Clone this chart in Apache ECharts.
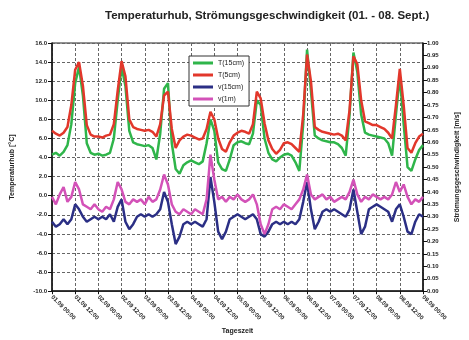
<!DOCTYPE html>
<html>
<head>
<meta charset="utf-8">
<script src="https://cdn.jsdelivr.net/npm/echarts@6/dist/echarts.min.js"></script>
<style>
  html, body { margin: 0; padding: 0; background: #fff; }
  #chart { width: 469px; height: 340px; }
</style>
</head>
<body>
<div id="chart"></div>
<script>
// Messwerte alle 2 Stunden, 01.09. 00:00 bis 09.09. 00:00
var stepHours = 2;

var xTickLabels = [
  '01.09 00:00', '01.09 12:00', '02.09 00:00', '02.09 12:00', '03.09 00:00', '03.09 12:00',
  '04.09 00:00', '04.09 12:00', '05.09 00:00', '05.09 12:00', '06.09 00:00', '06.09 12:00',
  '07.09 00:00', '07.09 12:00', '08.09 00:00', '08.09 12:00', '09.09 00:00'
];

var seriesNames = ['T(15cm)', 'T(5cm)', 'v(15cm)', 'v(1m)'];

// Temperatur 15cm (gruen)
var temp15 = [
  4.3, 4.5, 4.2, 4.6, 5.3, 7.5, 11.8, 13.5, 10.5, 5.5, 4.5, 4.3, 4.4, 4.2, 4.3, 4.5,
  6.0, 10.0, 13.5, 11.5, 6.8, 5.6, 5.4, 5.3, 5.2, 5.3, 5.0, 3.8, 6.5, 11.2, 11.8, 5.5,
  2.8, 2.3, 3.2, 3.5, 3.7, 3.5, 3.3, 3.6, 5.5, 8.0, 6.8, 3.5, 2.8, 2.6, 3.8, 5.3,
  5.6, 5.7, 5.5, 5.4, 6.5, 10.0, 9.5, 6.0, 4.5, 3.8, 3.6, 4.0, 4.3, 4.4, 4.2, 3.5,
  2.6, 7.5, 15.3, 11.0, 6.3, 6.0, 5.8, 5.7, 5.6, 5.6, 5.4, 5.0, 4.2, 8.5, 15.0, 13.0,
  8.5, 6.6, 6.4, 6.3, 6.2, 6.1, 6.0, 5.5, 4.2, 8.5, 12.5, 7.5, 3.0, 2.6, 3.8, 4.8, 5.3
];

// Temperatur 5cm (rot)
var temp5 = [
  6.8, 6.5, 6.3, 6.6, 7.2, 9.5, 13.2, 14.0, 11.5, 7.4, 6.4, 6.2, 6.2, 6.1, 6.3, 6.4,
  7.5, 11.0, 14.1, 12.5, 8.0, 7.2, 7.0, 6.9, 6.8, 6.9, 6.7, 6.2, 7.5, 10.5, 10.9, 7.0,
  5.0, 5.8, 6.2, 6.4, 6.3, 6.1, 5.9, 6.0, 7.0, 8.8, 8.0, 6.0, 4.9, 4.6, 5.6, 6.3,
  6.6, 6.8, 6.7, 6.5, 7.5, 10.9, 10.2, 7.6, 5.8, 4.9, 4.4, 4.8, 5.5, 5.6, 5.4, 5.0,
  4.6, 8.5, 14.8, 12.0, 7.2, 6.9, 6.7, 6.6, 6.5, 6.4, 6.5, 6.3, 5.8, 9.0, 14.6, 13.8,
  10.0, 7.8, 7.6, 7.4, 7.4, 7.2, 7.0, 6.6, 6.0, 9.5, 13.3, 9.5, 5.0, 4.5, 5.5, 6.2, 6.5
];

// Stroemungsgeschwindigkeit 15cm (blau)
var vel15 = [
  0.28, 0.26, 0.27, 0.29, 0.27, 0.29, 0.35, 0.33, 0.30, 0.28, 0.29, 0.30, 0.29, 0.30, 0.29, 0.31,
  0.28, 0.34, 0.37, 0.28, 0.25, 0.27, 0.30, 0.31, 0.30, 0.31, 0.30, 0.31, 0.33, 0.40, 0.36, 0.27,
  0.19, 0.22, 0.27, 0.28, 0.27, 0.28, 0.27, 0.26, 0.29, 0.46, 0.36, 0.24, 0.21, 0.24, 0.29, 0.30,
  0.31, 0.30, 0.29, 0.30, 0.31, 0.29, 0.23, 0.22, 0.24, 0.27, 0.28, 0.27, 0.28, 0.27, 0.28, 0.27,
  0.29, 0.36, 0.44, 0.33, 0.25, 0.28, 0.32, 0.33, 0.32, 0.33, 0.32, 0.31, 0.30, 0.33, 0.41, 0.32,
  0.23, 0.26, 0.33, 0.34, 0.35, 0.34, 0.33, 0.32, 0.28, 0.33, 0.35, 0.30, 0.24, 0.23, 0.28, 0.31, 0.30
];

// Stroemungsgeschwindigkeit 1m (magenta)
var vel1m = [
  0.38, 0.35, 0.39, 0.42, 0.36, 0.38, 0.44, 0.41, 0.35, 0.34, 0.33, 0.35, 0.33, 0.32, 0.34, 0.33,
  0.37, 0.44, 0.41, 0.36, 0.35, 0.37, 0.36, 0.37, 0.35, 0.38, 0.36, 0.37, 0.41, 0.47, 0.43, 0.35,
  0.32, 0.31, 0.33, 0.32, 0.31, 0.33, 0.32, 0.31, 0.37, 0.55, 0.45, 0.37, 0.38, 0.36, 0.38, 0.37,
  0.39, 0.37, 0.36, 0.37, 0.39, 0.35, 0.27, 0.23, 0.27, 0.33, 0.34, 0.33, 0.35, 0.34, 0.33, 0.35,
  0.37, 0.41, 0.47, 0.39, 0.37, 0.38, 0.39, 0.37, 0.38, 0.36, 0.37, 0.38, 0.37, 0.40, 0.45, 0.39,
  0.36, 0.38, 0.37, 0.39, 0.38, 0.37, 0.38, 0.37, 0.39, 0.44, 0.40, 0.43, 0.38, 0.35, 0.37, 0.36, 0.38
];

var chart = echarts.init(document.getElementById('chart'));

function toPairs(arr) {
  return arr.map(function (v, i) { return [i * stepHours, v]; });
}

var gridLine = { show: true, lineStyle: { color: '#666', type: [3, 2], width: 1 } };
var tickFont = { fontFamily: 'Liberation Sans', fontSize: 6, fontWeight: 'bold', color: '#222' };

var option = {
  animation: false,
  backgroundColor: '#fff',
  title: {
    text: 'Temperaturhub, Strömungsgeschwindigkeit (01. - 08. Sept.)',
    left: 100,
    top: 5,
    textStyle: { fontFamily: 'Liberation Sans', fontSize: 11.5, fontWeight: 'bold', color: '#222' }
  },
  legend: {
    orient: 'vertical',
    left: 189,
    top: 56,
    padding: [3, 5, 3, 4],
    itemGap: 4,
    itemWidth: 20,
    itemHeight: 3,
    icon: 'rect',
    backgroundColor: '#fff',
    borderColor: '#333',
    borderWidth: 1,
    textStyle: { fontFamily: 'Liberation Sans', fontSize: 7, lineHeight: 8, color: '#222' },
    data: seriesNames
  },
  grid: {
    left: 52, right: 31, top: 43, bottom: 45,
    show: true, borderColor: '#222', borderWidth: 1
  },
  xAxis: {
    type: 'value',
    min: 0,
    max: 192,
    interval: 12,
    name: 'Tageszeit',
    nameLocation: 'middle',
    nameGap: 33,
    nameTextStyle: { fontFamily: 'Liberation Sans', fontSize: 7, fontWeight: 'bold', color: '#222' },
    axisLine: { onZero: false, lineStyle: { color: '#111', width: 1.5 } },
    axisTick: { show: true, length: 3, lineStyle: { color: '#111' } },
    splitLine: gridLine,
    axisLabel: Object.assign({
      rotate: -45,
      margin: 5,
      formatter: function (v) { return xTickLabels[Math.round(v / 12)] || ''; }
    }, tickFont)
  },
  yAxis: [
    {
      type: 'value',
      min: -10,
      max: 16,
      interval: 2,
      name: 'Temperaturhub [°C]',
      nameLocation: 'middle',
      nameGap: 36,
      nameTextStyle: { fontFamily: 'Liberation Sans', fontSize: 7, fontWeight: 'bold', color: '#222' },
      axisLine: { show: true, lineStyle: { color: '#111', width: 1.5 } },
      axisTick: { show: true, length: 4, lineStyle: { color: '#111' } },
      splitLine: gridLine,
      axisLabel: Object.assign({
        margin: 5,
        formatter: function (v) { return v.toFixed(1); }
      }, tickFont)
    },
    {
      type: 'value',
      min: 0,
      max: 1,
      interval: 0.05,
      name: 'Strömungsgeschwindigkeit [m/s]',
      nameLocation: 'middle',
      nameGap: 31,
      nameTextStyle: { fontFamily: 'Liberation Sans', fontSize: 7, fontWeight: 'bold', color: '#222' },
      axisLine: { show: true, lineStyle: { color: '#111', width: 1.5 } },
      axisTick: { show: true, length: 4, lineStyle: { color: '#111' } },
      splitLine: { show: false },
      axisLabel: Object.assign({
        margin: 4,
        formatter: function (v) { return v.toFixed(2); }
      }, tickFont)
    }
  ],
  series: [
    { name: seriesNames[0], yAxisIndex: 0, data: toPairs(temp15), color: '#2fb54a' },
    { name: seriesNames[1], yAxisIndex: 0, data: toPairs(temp5), color: '#e2372b' },
    { name: seriesNames[2], yAxisIndex: 1, data: toPairs(vel15), color: '#2b2f85' },
    { name: seriesNames[3], yAxisIndex: 1, data: toPairs(vel1m), color: '#d352b8' }
  ].map(function (s) {
    return Object.assign({
      type: 'line',
      showSymbol: false,
      symbol: 'none',
      lineStyle: { width: 2.5 }
    }, s);
  })
};

chart.setOption(option);
</script>
</body>
</html>
